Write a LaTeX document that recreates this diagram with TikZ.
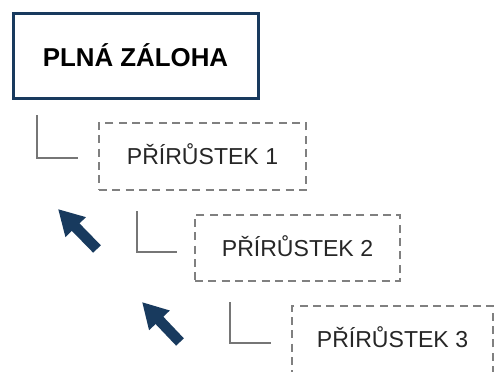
\documentclass[tikz,border=0pt]{standalone}
\usepackage{fontspec}
\setmainfont{Liberation Sans}
\usetikzlibrary{arrows.meta}
\definecolor{navy}{RGB}{24,58,94}
\definecolor{dashgray}{RGB}{128,128,128}
\definecolor{linegray}{RGB}{118,118,118}
\begin{document}
\begin{tikzpicture}[x=0.75pt,y=-0.75pt,
  titlebox/.style={draw=navy,line width=2.25pt,fill=white,minimum width=183.75pt,minimum height=63.75pt,inner sep=0pt,
    font=\fontsize{19.4pt}{22pt}\selectfont\bfseries,text=black},
  incbox/.style={draw=dashgray,line width=1.5pt,dash pattern=on 6pt off 4pt,inner sep=0pt,
    font=\fontsize{17.3pt}{20pt}\selectfont,text=black!85, text height=12.4pt, text depth=0pt},
  bracket/.style={draw=linegray,line width=1.5pt},
  bigarrow/.style={draw=navy,line width=8pt,-{Triangle[length=19pt,width=20pt]}}
]
\useasboundingbox (0,0) rectangle (494,372);
\clip (0,0) rectangle (494,372);
\node[titlebox] (full) at (135.5,55.5) {PLNÁ ZÁLOHA};
\node[incbox,minimum width=155.25pt,minimum height=50.25pt] (inc1) at (202.5,156.5) {PŘÍRŮSTEK 1};
\node[incbox,minimum width=153.75pt,minimum height=49.5pt] (inc2) at (297.5,248) {PŘÍRŮSTEK 2};
\node[incbox,minimum width=150.75pt,minimum height=50.25pt] (inc3) at (392.5,339.5) {PŘÍRŮSTEK 3};
% brackets
\coordinate (b1t) at (37,115); \coordinate (b1c) at (37,158); \coordinate (b1e) at (78,158);
\coordinate (b2t) at (137,211); \coordinate (b2c) at (137,252); \coordinate (b2e) at (177,252);
\coordinate (b3t) at (230,302); \coordinate (b3c) at (230,343); \coordinate (b3e) at (271,343);
\draw[bracket] (b1t) -- (b1c) -- (b1e);
\draw[bracket] (b2t) -- (b2c) -- (b2e);
\draw[bracket] (b3t) -- (b3c) -- (b3e);
% arrows
\coordinate (a1s) at (97,249); \coordinate (a1e) at (58,209);
\coordinate (a2s) at (180,342); \coordinate (a2e) at (142,302);
\draw[bigarrow] (a1s) -- (a1e);
\draw[bigarrow] (a2s) -- (a2e);
\end{tikzpicture}
\end{document}
